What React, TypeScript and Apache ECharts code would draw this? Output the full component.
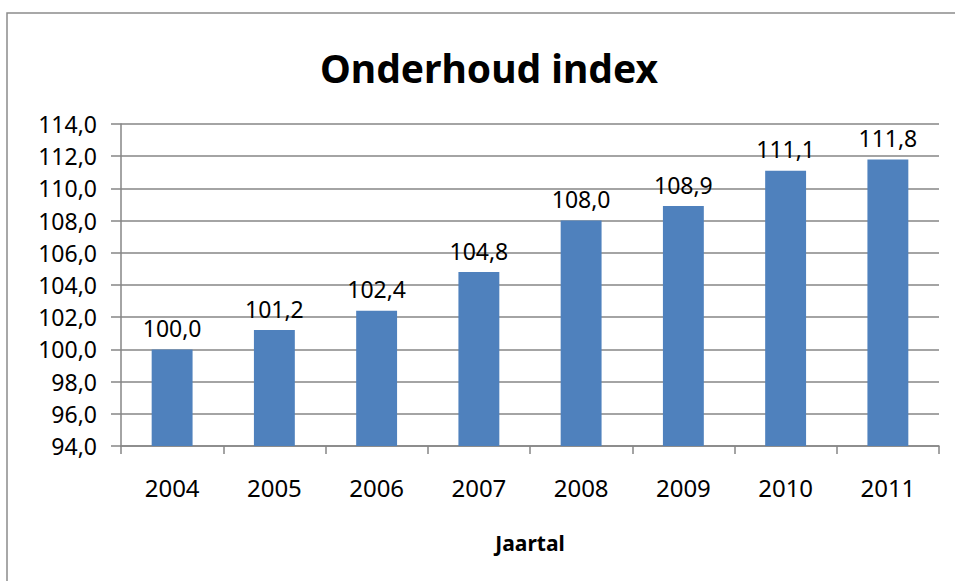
import React, { useEffect, useRef } from "react";
import * as echarts from "echarts";

const years = ["2004", "2005", "2006", "2007", "2008", "2009", "2010", "2011"];
const indexValues = [100.0, 101.2, 102.4, 104.8, 108.0, 108.9, 111.1, 111.8];

const yMin = 94;
const yMax = 114;
const yStep = 2;

const fmt = (v: number) => v.toFixed(1).replace(".", ",");

const FONT = "'Noto Sans', 'DejaVu Sans', sans-serif";

export default function App() {
  const ref = useRef<HTMLDivElement>(null);

  useEffect(() => {
    if (!ref.current) return;
    const chart = echarts.init(ref.current, undefined, { renderer: "svg" });
    chart.setOption({
      animation: false,
      backgroundColor: "#ffffff",
      textStyle: { fontFamily: FONT },
      graphic: [
        {
          type: "rect",
          shape: { x: 7, y: 13, width: 990, height: 620 },
          style: { fill: "none", stroke: "#8c8c8c", lineWidth: 1.5 },
          silent: true,
        },
        {
          type: "text",
          x: 489,
          y: 67,
          style: {
            text: "Onderhoud index",
            fontFamily: FONT,
            fontSize: 39,
            fontWeight: "bold",
            fill: "#000000",
            textAlign: "center",
            textVerticalAlign: "middle",
          },
        },
        {
          type: "text",
          x: 530,
          y: 543,
          style: {
            text: "Jaartal",
            fontFamily: FONT,
            fontSize: 21,
            fontWeight: "bold",
            fill: "#000000",
            textAlign: "center",
            textVerticalAlign: "middle",
          },
        },
      ],
      grid: { left: 121, right: 16, top: 124, bottom: 135, containLabel: false },
      xAxis: {
        type: "category",
        data: years,
        axisLine: { show: true, lineStyle: { color: "#868686", width: 1.5 } },
        axisTick: { show: true, length: 8, alignWithLabel: false, lineStyle: { color: "#868686", width: 1.5 } },
        axisLabel: { color: "#000000", fontSize: 24, margin: 29, fontFamily: FONT },
        splitLine: { show: false },
      },
      yAxis: {
        type: "value",
        min: yMin,
        max: yMax,
        interval: yStep,
        axisLine: { show: true, lineStyle: { color: "#868686", width: 1.5 } },
        axisTick: { show: true, inside: false, length: 10, lineStyle: { color: "#868686", width: 1.5 } },
        axisLabel: { color: "#000000", fontSize: 23, margin: 24, fontFamily: FONT, formatter: (v: number) => fmt(v) },
        splitLine: { show: true, lineStyle: { color: "#868686", width: 1.5 } },
      },
      series: [
        {
          type: "bar",
          data: indexValues,
          barCategoryGap: "60%",
          itemStyle: { color: "#4f81bd" },
          label: {
            show: true,
            position: "top",
            distance: 10,
            color: "#000000",
            fontSize: 23,
            fontFamily: FONT,
            formatter: (p: any) => fmt(p.value),
          },
        },
      ],
    });
    return () => chart.dispose();
  }, []);

  return <div ref={ref} style={{ width: 955, height: 581, position: "absolute", left: 0, top: 0 }} />;
}
